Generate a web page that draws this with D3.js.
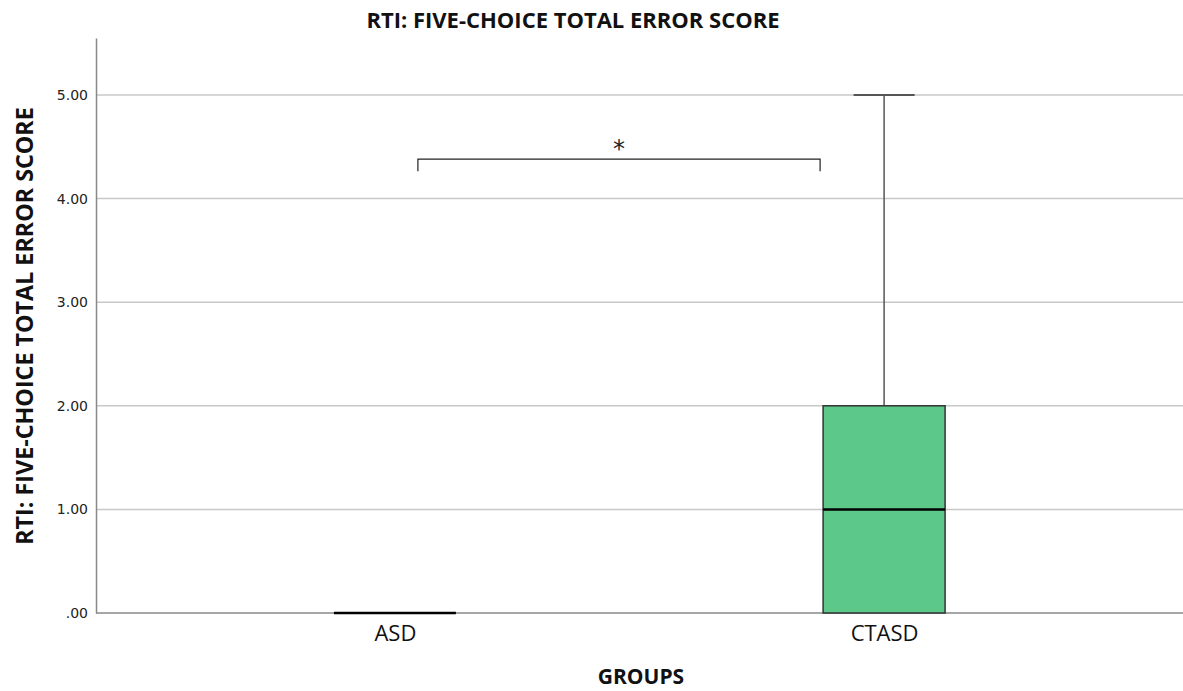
<!DOCTYPE html>
<html>
<head>
<meta charset="utf-8">
<script src="https://cdn.jsdelivr.net/npm/d3@7"></script>
<style>
  html, body { margin: 0; padding: 0; background: #fff; }
  svg { display: block; font-family: "Open Sans", "DejaVu Sans", sans-serif; }
</style>
</head>
<body>
<svg id="chart" width="1183" height="691"></svg>
<script>
// Box-plot summaries per group
const groups = ["ASD", "CTASD"];
const whiskerLow = [0, 0];
const q1 = [0, 0];
const median = [0, 1];
const q3 = [0, 2];
const whiskerHigh = [0, 5];
const yTicks = [0, 1, 2, 3, 4, 5];
const sigBracketValue = 4.38;
const sigLabel = "*";

const svg = d3.select("#chart");
const W = 1183, H = 691;
const margin = { left: 96, right: 0, top: 38, bottom: 78 };

const y = d3.scaleLinear().domain([0, 5.55]).range([H - margin.bottom, margin.top]);
const x = d3.scalePoint().domain(groups).range([margin.left, W - margin.right]).padding(0.611);
const boxW = 122;

// Gridlines
svg.append("g")
  .selectAll("line")
  .data(yTicks.filter(d => d > 0))
  .join("line")
  .attr("x1", margin.left).attr("x2", W)
  .attr("y1", d => y(d)).attr("y2", d => y(d))
  .attr("stroke", "#c8c8c8").attr("stroke-width", 1.5);

// Y axis
const yAxis = svg.append("g")
  .attr("transform", `translate(${margin.left},0)`)
  .call(d3.axisLeft(y).tickValues(yTicks).tickSize(0).tickPadding(8)
    .tickFormat(d => d === 0 ? ".00" : d3.format(".2f")(d)));
yAxis.select(".domain").attr("stroke", "#888").attr("stroke-width", 1.5);
yAxis.selectAll("text").attr("font-size", 14).attr("fill", "#222")
  .attr("font-family", "'DejaVu Sans', sans-serif");

// X axis
const xAxis = svg.append("g")
  .attr("transform", `translate(0,${y(0)})`)
  .call(d3.axisBottom(x).tickSize(0).tickPadding(12));
xAxis.attr("font-family", "'Open Sans', sans-serif");
xAxis.select(".domain").attr("stroke", "#888").attr("stroke-width", 1.5)
  .attr("d", `M${margin.left},0H${W}`);
xAxis.selectAll("text").attr("font-size", 22).attr("fill", "#111");

// Boxes
const boxes = svg.append("g").selectAll("g")
  .data(groups.map((g, i) => ({ g, lo: whiskerLow[i], q1: q1[i], med: median[i], q3: q3[i], hi: whiskerHigh[i] })))
  .join("g");

boxes.filter(d => d.hi > d.q3).append("line")
  .attr("x1", d => x(d.g)).attr("x2", d => x(d.g))
  .attr("y1", d => y(d.q3)).attr("y2", d => y(d.hi))
  .attr("stroke", "#555").attr("stroke-width", 1.5);
boxes.filter(d => d.hi > d.q3).append("line")
  .attr("x1", d => x(d.g) - boxW / 4).attr("x2", d => x(d.g) + boxW / 4)
  .attr("y1", d => y(d.hi)).attr("y2", d => y(d.hi))
  .attr("stroke", "#555").attr("stroke-width", 2);
boxes.filter(d => d.q3 > d.q1).append("rect")
  .attr("x", d => x(d.g) - boxW / 2).attr("width", boxW)
  .attr("y", d => y(d.q3)).attr("height", d => y(d.q1) - y(d.q3))
  .attr("fill", "#5cc88a").attr("stroke", "#333").attr("stroke-width", 1.5);
boxes.append("line")
  .attr("x1", d => x(d.g) - boxW / 2).attr("x2", d => x(d.g) + boxW / 2)
  .attr("y1", d => y(d.med)).attr("y2", d => y(d.med))
  .attr("stroke", "#000").attr("stroke-width", 2.5);

// Significance bracket
const by = y(sigBracketValue);
const bx1 = x(groups[0]) + 23, bx2 = x(groups[1]) - 64;
svg.append("path")
  .attr("d", `M${bx1},${by + 12}V${by}H${bx2}V${by + 12}`)
  .attr("fill", "none").attr("stroke", "#222").attr("stroke-width", 1.2);
svg.append("text")
  .attr("x", (bx1 + bx2) / 2).attr("y", by - 2)
  .attr("text-anchor", "middle").attr("font-size", 24).attr("fill", "#222")
  .attr("font-family", "'DejaVu Sans', sans-serif")
  .text(sigLabel);

// Titles
svg.append("text")
  .attr("x", 573).attr("y", 28).attr("text-anchor", "middle")
  .attr("font-size", 22).attr("font-weight", "bold").attr("fill", "#111")
  .text("RTI: FIVE-CHOICE TOTAL ERROR SCORE");
svg.append("text")
  .attr("transform", "translate(33,326) rotate(-90)").attr("text-anchor", "middle")
  .attr("font-size", 23.3).attr("font-weight", "bold").attr("fill", "#111")
  .text("RTI: FIVE-CHOICE TOTAL ERROR SCORE");
svg.append("text")
  .attr("x", 641).attr("y", 684).attr("text-anchor", "middle")
  .attr("font-size", 21).attr("font-weight", "bold").attr("fill", "#111")
  .text("GROUPS");
</script>
</body>
</html>
